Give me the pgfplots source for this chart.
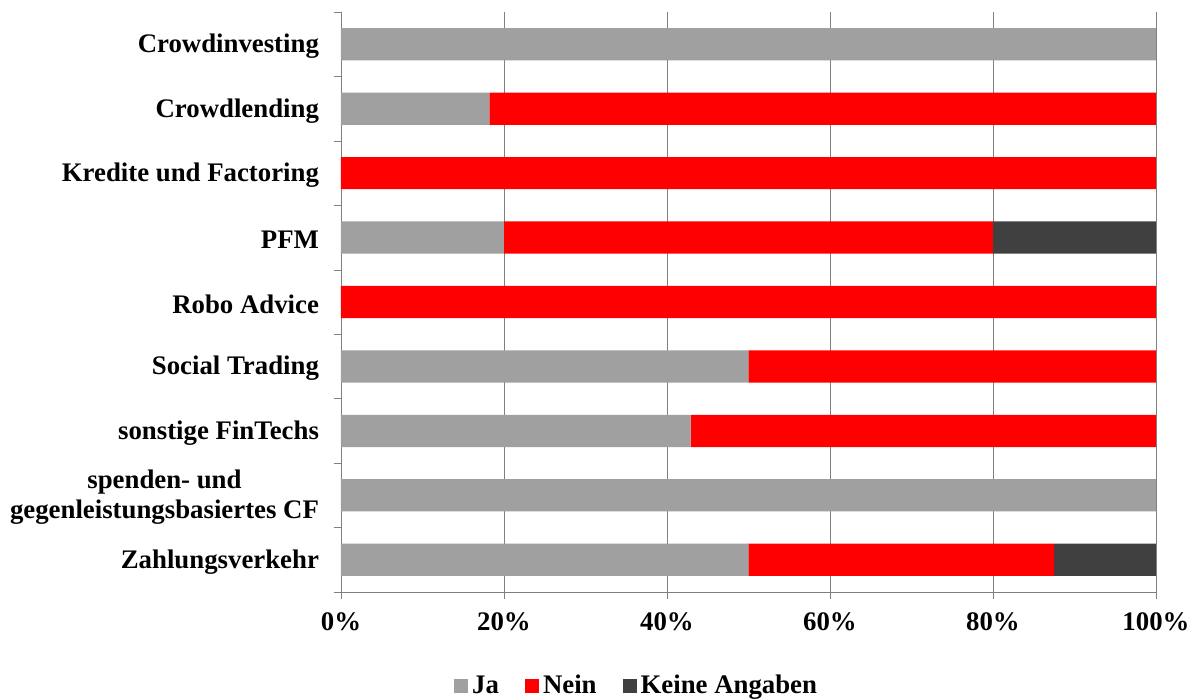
\documentclass[border=0pt]{standalone}
\usepackage{fontspec}
\setmainfont{Liberation Serif}
\usepackage{pgfplots}
\pgfplotsset{compat=1.18}
\usepackage{pgfplotstable}

\definecolor{ja}{HTML}{A0A0A0}
\definecolor{nein}{HTML}{FF0000}
\definecolor{keine}{HTML}{404040}

% y: 0 = Zahlungsverkehr (bottom) ... 8 = Crowdinvesting (top)
\pgfplotstableread{
y ja nein ka
0 50 37.5 12.5
1 100 0 0
2 42.9 57.1 0
3 50 50 0
4 0 100 0
5 20 60 20
6 0 100 0
7 18.2 81.8 0
8 100 0 0
}\data

\begin{document}
\begin{tikzpicture}
\useasboundingbox (-170.5pt,-53pt) rectangle (427.5pt,296pt);
\begin{axis}[
    at={(0,0)}, anchor=south west,
    scale only axis, width=407.5pt, height=290pt,
    xbar stacked, bar width=0.5,
    xmin=0, xmax=100, ymin=-0.5, ymax=8.5,
    axis x line*=bottom, axis y line*=left,
    axis line style={draw=gray, -},
    xtick={0,20,...,100},
    xticklabels={0\%,20\%,40\%,60\%,80\%,100\%},
    ytick={0,...,8},
    yticklabels={Zahlungsverkehr, {spenden- und\\gegenleistungsbasiertes CF}, sonstige FinTechs, Social Trading, Robo Advice, PFM, Kredite und Factoring, Crowdlending, Crowdinvesting},
    yticklabel style={align=center, xshift=-4pt, yshift=-1pt, font=\fontsize{13.4}{15}\selectfont\bfseries},
    xticklabel style={font=\fontsize{13.4}{15}\selectfont\bfseries, yshift=-3.5pt},
    minor ytick={-0.5,0.5,...,8.5},
    major y tick style={draw=none},
    tick align=outside,
    major tick length=3.5pt, minor tick length=3.5pt,
    tick style={gray},
    xmajorgrids, grid style={gray},
    legend style={at={(0.364,-0.162)}, anchor=center, legend columns=-1, draw=none,
      font=\fontsize{13.4}{15}\selectfont\bfseries,
      /tikz/every even column/.append style={column sep=11pt}},
    legend image code/.code={\fill[#1] (0pt,-3.5pt) rectangle (7pt,3.5pt);},
]
\addplot[fill=ja, draw=none] table[x=ja, y=y] {\data};
\addplot[fill=nein, draw=none] table[x=nein, y=y] {\data};
\addplot[fill=keine, draw=none] table[x=ka, y=y] {\data};
\legend{Ja, Nein, Keine Angaben}
\end{axis}
\end{tikzpicture}
\end{document}
